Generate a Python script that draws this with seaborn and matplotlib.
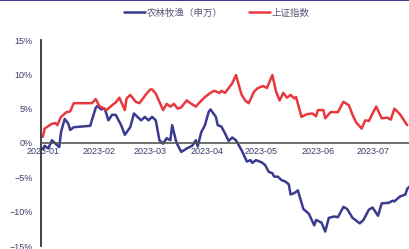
import numpy as np
import pandas as pd
import matplotlib
matplotlib.use("Agg")
import matplotlib.pyplot as plt
import matplotlib.dates as mdates
from matplotlib.lines import Line2D
from matplotlib.ticker import FuncFormatter
import seaborn as sns

# days since 2023-01-01, cumulative return (%)
sh_days = [0, 1, 5, 7, 8, 10, 13, 15, 17, 27, 29, 31, 35, 38, 40, 42, 45, 46, 48, 51,
           53, 55, 57, 59, 60, 62, 64, 66, 68, 70, 72, 74, 76, 79, 81, 84, 86, 89, 92, 94,
           97, 98, 100, 102, 104, 106, 107, 109, 111, 113, 116, 118, 121, 123, 126, 128, 130, 132, 134, 136,
           138, 139, 142, 145, 148, 150, 151, 154, 155, 158, 162, 165, 168, 170, 172, 175, 177, 179, 181, 183,
           186, 189, 191, 193, 196, 199, 200]
sh_vals = [0.9, 2.1, 2.8, 2.9, 2.6, 3.8, 4.5, 4.6, 5.8, 5.8, 6.4, 5.4, 4.8, 5.5, 5.9, 6.6, 4.8, 6.5, 7.0, 6.0,
           5.8, 6.5, 7.2, 7.8, 7.8, 7.2, 6.0, 4.8, 5.7, 5.3, 5.7, 5.0, 5.2, 6.2, 5.8, 5.3, 5.9, 6.7, 7.3, 7.6,
           7.3, 7.6, 7.3, 8.0, 8.7, 9.9, 9.0, 7.1, 6.2, 5.8, 7.5, 8.0, 8.3, 8.0, 9.9, 7.5, 6.2, 7.3, 6.6, 7.0,
           6.5, 6.7, 3.8, 4.2, 4.3, 3.9, 4.8, 4.8, 3.6, 4.5, 4.5, 6.0, 5.5, 4.1, 3.0, 2.1, 3.3, 3.2, 4.3, 5.3,
           3.6, 3.7, 3.4, 5.0, 4.2, 3.0, 2.6]

agri_days = [0, 1, 3, 5, 7, 9, 10, 12, 14, 15, 17, 26, 29, 30, 32, 34, 36, 38, 40, 43,
             45, 48, 50, 52, 54, 56, 58, 60, 62, 64, 66, 68, 70, 71, 73, 74, 76, 79, 82, 84,
             85, 87, 89, 91, 92, 95, 96, 98, 100, 102, 104, 106, 109, 112, 114, 115, 117, 120, 122, 124,
             126, 127, 129, 131, 133, 135, 136, 138, 140, 143, 146, 149, 150, 153, 155, 157, 160, 162, 165, 167,
             170, 174, 176, 179, 181, 184, 186, 190, 192, 193, 196, 199, 200, 201]
agri_vals = [-0.9, -0.4, -0.8, 0.4, -0.1, -0.6, 1.6, 3.5, 2.8, 1.9, 2.3, 2.5, 5.1, 5.4, 4.9, 5.0, 3.3, 4.1, 4.1, 2.6,
             1.2, 2.3, 4.3, 3.8, 3.3, 3.8, 3.3, 3.8, 3.3, 0.4, -0.1, 0.7, 0.4, 2.6, 0.4, -0.3, -1.3, -0.8, -0.4, 0.4,
             -0.5, 1.6, 2.6, 4.5, 4.9, 3.8, 2.6, 2.4, 1.4, 0.3, 0.8, 0.4, -1.0, -2.7, -2.5, -2.9, -2.5, -2.8, -3.2, -4.2,
             -4.4, -4.9, -4.9, -5.4, -5.6, -6.0, -7.5, -7.3, -6.9, -9.6, -10.3, -12.0, -11.2, -11.6, -12.9, -10.9, -10.7, -10.8, -9.3, -9.6,
             -10.9, -11.7, -11.2, -9.7, -9.4, -10.6, -8.8, -8.7, -8.4, -8.5, -7.8, -7.5, -6.7, -6.4]

series_names = ["农林牧渔（申万）", "上证指数"]
colors = ["#3a3a8e", "#e8383d"]
y_ticks = [15, 10, 5, 0, -5, -10, -15]

base = pd.Timestamp("2023-01-01")
df = pd.concat([
    pd.DataFrame({"date": base + pd.to_timedelta(agri_days, unit="D"), "ret": agri_vals, "name": series_names[0]}),
    pd.DataFrame({"date": base + pd.to_timedelta(sh_days, unit="D"), "ret": sh_vals, "name": series_names[1]}),
])

sns.set_theme(style="white")
plt.rcParams["font.family"] = ["Liberation Sans", "Noto Sans CJK SC", "DejaVu Sans"]

fig = plt.figure(figsize=(4.09, 2.49), dpi=100)
ax = fig.add_axes([41 / 409, 3 / 249, 368 / 409, 206 / 249])

sns.lineplot(data=df, x="date", y="ret", hue="name", hue_order=series_names,
             palette=colors, linewidth=1.8, ax=ax)

ax.set_ylim(-15, 15)
ax.set_xlim(pd.Timestamp("2022-12-31"), pd.Timestamp("2023-07-21"))
ax.set_yticks(y_ticks)
ax.yaxis.set_major_formatter(FuncFormatter(lambda v, p: f"{v:.0f}%".replace("-", "\u2212")))
ax.xaxis.set_major_locator(mdates.MonthLocator())
ax.xaxis.set_major_formatter(mdates.DateFormatter("%Y-%m"))
ax.set_xlabel("")
ax.set_ylabel("")

for s in ["top", "right"]:
    ax.spines[s].set_visible(False)
ax.spines["bottom"].set_position(("data", 0))
ax.spines["left"].set_color("#222222")
ax.spines["bottom"].set_color("#555555")
ax.spines["left"].set_linewidth(1.2)
ax.spines["bottom"].set_linewidth(1.2)
ax.tick_params(axis="both", direction="in", length=3, width=1, labelsize=6.5,
               colors="#333333")
ax.tick_params(axis="y", pad=6, labelcolor="#3b3b6b")
ax.tick_params(axis="x", pad=3, labelcolor="#3b3b6b")

ax.legend(loc="upper center", bbox_to_anchor=(176 / 368, 1.195), ncol=2, frameon=False,
          prop={"family": ["Noto Sans CJK SC"], "size": 6.8}, handlelength=2.2,
          columnspacing=2.8, handletextpad=0.2, labelcolor="#555577")

# thin frame line along the top edge
fig.add_artist(Line2D([0, 1], [0.998, 0.998], transform=fig.transFigure,
                      color="#1b1480", linewidth=1.2))

fig.savefig("out.png", dpi=100)
